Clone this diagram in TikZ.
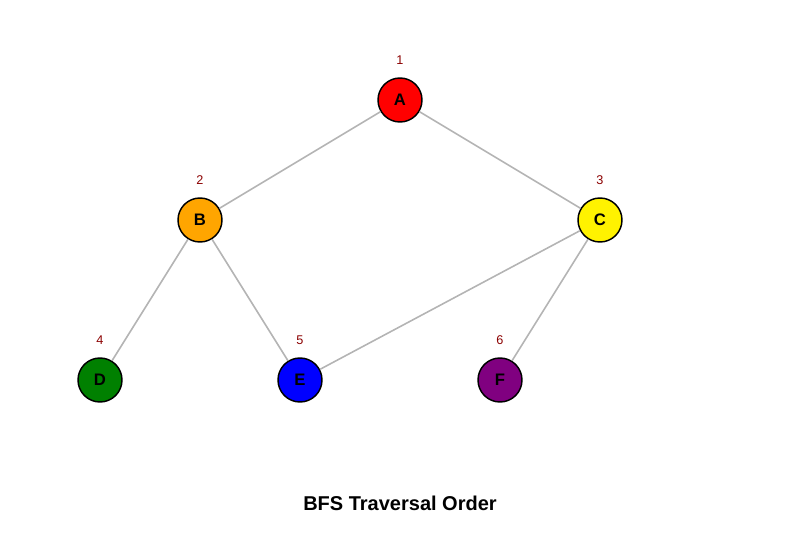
\documentclass[tikz,border=0pt]{standalone}
\usepackage{fontspec}
\setmainfont{Liberation Sans}
\usepackage{xcolor}
\usetikzlibrary{positioning}
\definecolor{edgegray}{RGB}{180,180,180}
\definecolor{ordred}{RGB}{139,0,0}
\definecolor{bfsorange}{RGB}{255,165,0}
\definecolor{bfsgreen}{RGB}{0,128,0}
\definecolor{bfspurple}{RGB}{128,0,128}
\tikzset{
    vertex/.style={circle, draw=black, line width=1.1pt, minimum size=33pt, inner sep=0pt, font=\fontsize{12.5}{14}\selectfont\bfseries},
    order/.style={text=ordred, font=\fontsize{9.5}{11}\selectfont},
    link/.style={edgegray, line width=1.2pt}
}

\begin{document}
\begin{tikzpicture}[x=0.75pt, y=-0.75pt]
                        \useasboundingbox (0, 0) rectangle (800, 550);

                        \node[vertex, fill=red] (a) at (400, 100) {A};
                        \node[vertex, fill=bfsorange] (b) at (200, 220) {B};
                        \node[vertex, fill=yellow] (c) at (600, 220) {C};
                        \node[vertex, fill=bfsgreen] (d) at (100, 380) {D};
                        \node[vertex, fill=blue] (e) at (300, 380) {E};
                        \node[vertex, fill=bfspurple] (f) at (500, 380) {F};

                        \draw[link]
                        (a) -- (b)
                        (a) -- (c)
                        (b) -- (d)
                        (b) -- (e)
                        (c) -- (e)
                        (c) -- (f);

                        \node[order] (n1) at (400, 60) {1};
                        \node[order] (n2) at (200, 180) {2};
                        \node[order] (n3) at (600, 180) {3};
                        \node[order] (n4) at (100, 340) {4};
                        \node[order] (n5) at (300, 340) {5};
                        \node[order] (n6) at (500, 340) {6};

                        \node[font=\fontsize{15}{18}\selectfont\bfseries] (title) at (400, 503) {BFS Traversal Order};
                    \end{tikzpicture}
\end{document}
